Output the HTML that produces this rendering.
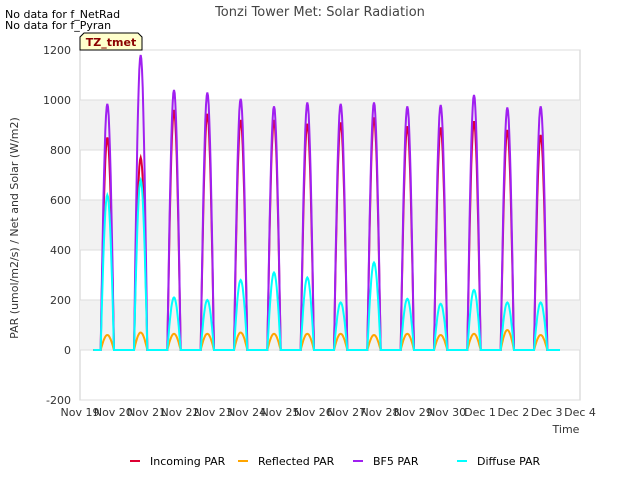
<!DOCTYPE html>
<html><head><meta charset="utf-8"><style>
body{margin:0;background:#fff;font-family:"Liberation Sans","DejaVu Sans",sans-serif}
svg text{font-family:"DejaVu Sans","Liberation Sans",sans-serif}
</style></head><body>
<svg id="c" width="640" height="480">
<rect width="640" height="480" fill="#fff"/>
<g id="bands"></g>
<text x="320" y="16" text-anchor="middle" font-size="13" fill="#444">Tonzi Tower Met: Solar Radiation</text>
<text x="5" y="18" font-size="11" fill="#000">No data for f_NetRad</text>
<text x="5" y="29" font-size="11" fill="#000">No data for f_Pyran</text>
<g id="axes"></g>
<g id="series"></g>
<g>
<path d="M80,50 L80,37 L84,33 L138,33 L142,37 L142,50 Z" fill="#ffffcc" stroke="#000"/>
<text x="111" y="46" text-anchor="middle" font-size="11" font-weight="bold" fill="#8b0000">TZ_tmet</text>
</g>
<text x="566" y="433" text-anchor="middle" font-size="11" fill="#333">Time</text>
<text transform="translate(18,228) rotate(-90)" text-anchor="middle" font-size="11" fill="#333">PAR (umol/m2/s) / Net and Solar (W/m2)</text>
<g id="legend"></g>
</svg>
<script>
const xLabels=["Nov 19","Nov 20","Nov 21","Nov 22","Nov 23","Nov 24","Nov 25","Nov 26","Nov 27","Nov 28","Nov 29","Nov 30","Dec 1","Dec 2","Dec 3","Dec 4"];
const yTicks=[-200,0,200,400,600,800,1000,1200];
const incomingPeaks=[850,770,960,945,920,920,905,910,930,895,890,915,880,860];
const reflectedPeaks=[60,70,65,65,70,65,65,65,60,65,60,65,80,60];
const bf5Peaks=[985,1180,1040,1030,1005,975,990,985,990,975,980,1020,970,975];
const diffusePeaks=[620,680,210,200,280,310,290,190,350,205,185,240,190,190];
const seriesNames=["Incoming PAR","Reflected PAR","BF5 PAR","Diffuse PAR"];
const seriesColors=["#dd0033","#ffa500","#a020f0","#00ffff"];
const NS="http://www.w3.org/2000/svg";
const X0=80,X1=580,Y0=350,PXU=0.25;
const xs=d=>X0+d*(X1-X0)/15;
const ys=v=>Y0-v*PXU;
function el(t,a,p){const e=document.createElementNS(NS,t);for(const k in a)e.setAttribute(k,a[k]);p.appendChild(e);return e;}
const bands=document.getElementById('bands'),axes=document.getElementById('axes');
const pa=el('rect',{x:X0,y:ys(1200),width:X1-X0,height:ys(-200)-ys(1200),fill:'#fff',stroke:'#ccc'},bands);


for(const lo of [0,400,800]){const b=el('rect',{x:X0,y:ys(lo+200),width:X1-X0,height:200*PXU,fill:'#f2f2f2'},bands);

}
yTicks.forEach(v=>{el('line',{x1:X0,x2:X1,y1:ys(v),y2:ys(v),stroke:'#ddd'},axes);
const t=el('text',{x:X0-9,y:ys(v)+4,'text-anchor':'end','font-size':11,fill:'#333'},axes);t.textContent=v;

});
xLabels.forEach((l,i)=>{const t=el('text',{x:xs(i),y:416,'text-anchor':'middle','font-size':11,fill:'#333'},axes);t.textContent=l;

});
const allPeaks=[incomingPeaks,reflectedPeaks,bf5Peaks,diffusePeaks];
const order=[0,2,1,3];
const sg=document.getElementById('series');
const center=0.82,half=0.2;
order.forEach(si=>{
 const peaks=allPeaks[si];let pts=[];
 pts.push([xs(0.4),ys(0)]);
 peaks.forEach((p,d)=>{
  const c=d+center;
  pts.push([xs(c-half-0.02),ys(0)]);
  for(let k=0;k<=20;k++){const f=k/20;const t=c-half+2*half*f;const v=p*Math.pow(Math.sin(Math.PI*f),1.0);pts.push([xs(t),ys(v)]);}
  pts.push([xs(c+half+0.02),ys(0)]);
 });
 pts.push([xs(14.4),ys(0)]);
 const pl=el('polyline',{points:pts.map(q=>q[0].toFixed(1)+','+q[1].toFixed(1)).join(' '),fill:'none',stroke:seriesColors[si],'stroke-width':2},sg);
 
 
});
const lg=document.getElementById('legend');
const lx=[130,238,353,457];
seriesNames.forEach((n,i)=>{
 const g=el('g',{},lg);
 
 
 el('line',{x1:lx[i],x2:lx[i]+10,y1:461,y2:461,stroke:seriesColors[i],'stroke-width':2},g);
 const t=el('text',{x:lx[i]+20,y:465,'font-size':11,fill:'#000'},g);t.textContent=n;
});
</script>
</body></html>
